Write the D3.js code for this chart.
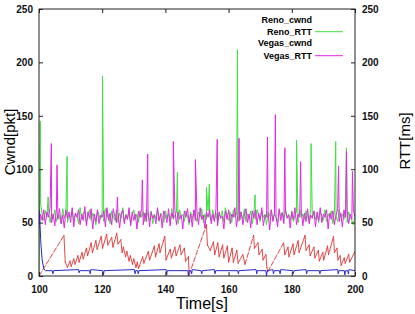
<!DOCTYPE html>
<html>
<head>
<meta charset="utf-8">
<script src="https://cdn.jsdelivr.net/npm/d3@7"></script>
<style>
body { margin: 0; background: #fff; }
text { font-family: "Liberation Sans", Arial, sans-serif; }
</style>
</head>
<body>
<svg class="chart" width="415" height="314"></svg>
<script>
"use strict";

var width  = 415,
    height = 314;

// sampling of the RTT traces: one value every half second, 100s .. 200s
var tStart = 100, tStep = 0.5;

var xTicks = [100, 120, 140, 160, 180, 200],
    yTicks = [0, 50, 100, 150, 200, 250];

var renoRtt = [
     0, 68, 58, 52, 61, 55, 63, 50, 59, 54,
    62, 51, 58, 56, 49, 63, 54, 60, 50, 57,
    55, 62, 52, 58, 57, 49, 64, 53, 59, 61,
    50, 56, 62, 52, 59, 55, 48, 61, 57, 53,
    60, 51, 63, 55, 58, 49, 61, 56, 52, 62,
    50, 59, 54, 64, 51, 58, 53, 61, 48, 57,
    62, 53, 58, 50, 61, 55, 60, 51, 63, 56,
    52, 61, 49, 58, 54, 62, 51, 59, 56, 50,
    61, 54, 58, 51, 63, 53, 57, 60, 49, 62,
    55, 58, 51, 61, 56, 48, 60, 53, 62, 57,
    51, 60, 55, 63, 50, 58, 53, 61, 56, 52,
    62, 53, 59, 49, 58, 55, 61, 51, 64, 56,
    52, 60, 50, 62, 55, 58, 51, 61, 57, 53,
    63, 51, 58, 55, 61, 49, 60, 53, 62, 56,
    51, 61, 55, 58, 48, 60, 56, 62, 53, 58,
    55, 50, 61, 56, 60, 52, 63, 55, 58, 52,
    61, 51, 57, 60, 50, 62, 55, 58, 53, 61,
    56, 51, 63, 55, 60, 53, 58, 50, 61, 56,
    52, 62, 51, 58, 55, 61, 49, 60, 56, 51,
    62, 55, 58, 53, 61, 50, 60, 56, 52, 48,
    56
];

var vegasRtt = [
    45, 58, 52, 62, 48, 60, 55, 64, 50, 58,
    47, 61, 53, 63, 49, 57, 45, 62, 54, 60,
    50, 64, 46, 59, 55, 62, 48, 58, 52, 65,
    47, 60, 54, 63, 44, 58, 51, 62, 49, 57,
    55, 61, 46, 64, 52, 59, 48, 63, 56, 50,
    60, 45, 58, 62, 49, 57, 53, 64, 47, 60,
    52, 58, 44, 61, 55, 63, 48, 59, 51, 62,
    46, 60, 54, 57, 49, 64, 52, 58, 45, 61,
    56, 50, 63, 47, 59, 54, 62, 48, 60, 53,
    57, 44, 61, 55, 63, 50, 58, 46, 62, 52,
    59, 48, 64, 53, 57, 45, 60, 55, 62, 49,
    58, 51, 63, 47, 60, 54, 56, 44, 61, 53,
    62, 49, 58, 55, 64, 46, 59, 52, 60, 48,
    57, 63, 50, 58, 45, 61, 54, 62, 48, 59,
    53, 64, 47, 57, 55, 60, 43, 62, 51, 58,
    56, 46, 63, 52, 59, 49, 61, 54, 57, 45,
    60, 53, 64, 48, 58, 55, 62, 47, 59, 51,
    63, 49, 57, 54, 61, 46, 60, 52, 64, 50,
    58, 55, 62, 44, 59, 53, 61, 48, 57, 63,
    51, 59, 46, 62, 55, 60, 49, 58, 53, 61,
    56
];

// [time, rtt] of the narrow RTT spikes
var renoRttSpikes = [
    [100.4, 145], [102.9, 74], [108.9, 112], [120.1, 187], [143.8, 97],
    [153.0, 83], [153.9, 86], [162.8, 212], [168.4, 76], [181.5, 127],
    [186.1, 124], [193.9, 126], [197.3, 120]
];

var vegasRttSpikes = [
    [103.9, 124], [105.7, 104], [124.8, 74], [132.7, 90], [134.4, 114],
    [142.5, 126], [149.5, 109], [156.4, 128], [163.3, 129], [172.3, 130],
    [174.8, 151], [177.8, 120], [182.8, 107], [194.8, 103], [197.3, 117],
    [199.2, 98]
];

// [time, cwnd] vertices of the Reno sawtooth
var renoCwnd = [
    [100.0, 0], [107.9, 38], [108.3, 13], [109.0, 8], [109.8, 14], [110.2, 9],
    [111.0, 16], [111.4, 11], [112.3, 19], [112.7, 13], [113.6, 22], [114.0, 16],
    [115.0, 26], [115.4, 19], [116.5, 31], [116.9, 22], [118.0, 33], [118.4, 25],
    [119.7, 37], [120.1, 26], [121.4, 39], [121.8, 29], [123.0, 36], [123.4, 27],
    [124.6, 40], [125.0, 30], [125.9, 34], [126.3, 22], [126.7, 27], [127.4, 18],
    [127.8, 23], [128.5, 14], [128.9, 19], [129.6, 11], [130.0, 16], [130.7, 8],
    [131.1, 13], [131.5, 7], [132.8, 18], [133.2, 12], [134.6, 23], [135.0, 15],
    [136.5, 28], [136.9, 18], [138.0, 30], [138.3, 22], [139.8, 37], [140.2, 15],
    [141.5, 25], [141.9, 17], [143.0, 27], [143.4, 19], [144.6, 29], [145.0, 20],
    [146.0, 26], [146.4, 14], [147.3, 18], [147.5, 1], [153.0, 48], [153.3, 29],
    [154.2, 24], [155.2, 32], [155.6, 20], [156.6, 31], [157.0, 18], [158.1, 29],
    [158.5, 17], [159.6, 28], [160.0, 13], [161.1, 26], [161.5, 13], [162.6, 24],
    [163.0, 12], [164.5, 20], [165.2, 11], [167.9, 38], [168.2, 26], [169.3, 31],
    [169.6, 20], [170.6, 25], [170.9, 15], [171.8, 20], [172.1, 8], [172.4, 4],
    [177.4, 31], [177.8, 20], [178.8, 27], [179.1, 18], [180.4, 30], [180.7, 20],
    [182.0, 33], [182.3, 22], [184.2, 38], [184.5, 24], [185.5, 29], [185.8, 19],
    [187.0, 27], [187.3, 17], [188.4, 24], [188.7, 14], [189.8, 22], [190.1, 15],
    [191.3, 28], [191.6, 20], [193.2, 37], [193.5, 22], [194.3, 26], [194.6, 15],
    [195.3, 19], [195.6, 10], [196.6, 17], [196.9, 12], [198.0, 20], [198.3, 13],
    [200.0, 23]
];

// [time, cwnd] vertices of the flat Vegas window
var vegasCwnd = [
    [100.0, 62], [100.3, 50], [100.6, 30], [101.0, 15], [101.5, 7], [102.0, 5],
    [104.2, 5], [104.4, 2], [104.6, 5], [112.5, 6], [112.7, 3], [112.9, 5],
    [116.0, 5], [116.2, 2], [116.4, 6], [120.2, 5], [120.4, 1], [120.6, 5],
    [130.2, 6], [130.4, 2], [130.6, 5], [131.2, 5], [131.4, 2], [131.6, 5],
    [140.2, 6], [140.4, 1], [140.6, 5], [147.1, 5], [147.3, 0], [147.5, 5],
    [148.1, 5], [148.3, 2], [148.5, 6], [151.3, 5], [151.5, 2], [151.7, 5],
    [155.5, 6], [155.7, 2], [155.9, 5], [162.9, 5], [163.1, 2], [163.3, 5],
    [168.7, 6], [168.9, 2], [169.1, 5], [171.8, 5], [172.0, 0], [172.2, 5],
    [174.0, 6], [174.2, 2], [174.4, 5], [176.1, 5], [176.3, 2], [176.5, 6],
    [180.3, 5], [180.5, 2], [180.7, 5], [184.5, 6], [184.7, 2], [184.9, 5],
    [188.7, 5], [188.9, 2], [189.1, 5], [194.5, 6], [194.7, 2], [194.9, 5],
    [196.6, 5], [196.8, 1], [197.0, 5], [197.7, 5], [197.9, 2], [198.1, 6],
    [200.0, 5]
];

var legendLabels = ["Reno_cwnd", "Reno_RTT", "Vegas_cwnd", "Vegas_RTT"];


// Setup
var chart = d3.select(".chart")
              .attr("viewBox", "0 0 " + width + " " + height);

var x = d3.scaleLinear().domain([100, 200]).range([39, 355]);
var y = d3.scaleLinear().domain([0, 250]).range([276, 9]);

var colors = {
    renoRtt:  "#40e040",
    vegasRtt: "#e428e4",
    renoCwnd: "#e03434",
    vegasCwnd:"#2a2ad0"
};

function withSpikes(values, spikes) {
    var pts = values.map(function(v, i) { return [tStart + i * tStep, v]; });
    return pts.concat(spikes).sort(function(a, b) { return a[0] - b[0]; });
}

var line = d3.line()
             .x(function(d) { return x(d[0]); })
             .y(function(d) { return y(d[1]); });

chart.append("clipPath").attr("id", "plotclip")
     .append("rect")
        .attr("x", x(100)).attr("y", y(250))
        .attr("width", x(200) - x(100)).attr("height", y(0) - y(250));

var plot = chart.append("g").attr("clip-path", "url(#plotclip)");

function addSeries(data, color, w) {
    plot.append("path")
        .datum(data)
        .attr("d", line)
        .attr("fill", "none")
        .attr("stroke", color)
        .attr("stroke-width", w || 1)
        .attr("stroke-linejoin", "round");
}

// sawtooth: the long slow-start ramps look dashed in the original
function addSawtooth(data, color) {
    for (var i = 1; i < data.length; i++) {
        var a = data[i - 1], b = data[i];
        plot.append("line")
            .attr("x1", x(a[0])).attr("y1", y(a[1]))
            .attr("x2", x(b[0])).attr("y2", y(b[1]))
            .attr("stroke", color)
            .attr("stroke-width", 0.9)
            .attr("stroke-linecap", "round")
            .attr("stroke-dasharray", (b[0] - a[0] > 2.5) ? "5,2" : null);
    }
}

addSeries(withSpikes(renoRtt, renoRttSpikes), colors.renoRtt);
addSeries(withSpikes(vegasRtt, vegasRttSpikes), colors.vegasRtt);
addSawtooth(renoCwnd, colors.renoCwnd);
addSeries(vegasCwnd, colors.vegasCwnd, 1);

// axes
function styleAxis(g) {
    g.select(".domain").remove();
    g.selectAll(".tick line").attr("stroke", "#222");
    g.selectAll("text")
        .attr("fill", "#111")
        .style("font-size", "10px")
        .style("font-weight", "bold");
}

chart.append("g")
    .attr("transform", "translate(" + x(100) + ",0)")
    .call(d3.axisLeft(y).tickValues(yTicks).tickSize(-4).tickPadding(6))
    .call(styleAxis);

chart.append("g")
    .attr("transform", "translate(" + x(200) + ",0)")
    .call(d3.axisRight(y).tickValues(yTicks).tickSize(-4).tickPadding(7))
    .call(styleAxis);

chart.append("g")
    .attr("transform", "translate(0," + y(0) + ")")
    .call(d3.axisBottom(x).tickValues(xTicks).tickSize(-4).tickPadding(10))
    .call(styleAxis);

chart.append("g")
    .attr("transform", "translate(0," + y(250) + ")")
    .call(d3.axisTop(x).tickValues(xTicks).tickSize(-4).tickFormat(""))
    .call(styleAxis);

chart.append("rect")
    .attr("x", x(100)).attr("y", y(250))
    .attr("width", x(200) - x(100)).attr("height", y(0) - y(250))
    .attr("fill", "none")
    .attr("stroke", "#222")
    .attr("stroke-width", 1);

// titles
chart.append("text")
    .attr("x", 202).attr("y", 309)
    .attr("text-anchor", "middle")
    .style("font-size", "16px")
    .text("Time[s]");

chart.append("text")
    .attr("transform", "translate(10,142) rotate(-90)")
    .attr("dy", ".35em")
    .attr("text-anchor", "middle")
    .style("font-size", "15px")
    .text("Cwnd[pkt]");

chart.append("text")
    .attr("transform", "translate(405,141) rotate(-90)")
    .attr("dy", ".35em")
    .attr("text-anchor", "middle")
    .style("font-size", "15px")
    .text("RTT[ms]");

// legend
var legendColors = [null, colors.renoRtt, null, colors.vegasRtt];
var legendRowsY = [20, 31.7, 43.2, 55.7];

var legend = chart.append("g").attr("class", "legend");
legendLabels.forEach(function(label, i) {
    legend.append("text")
        .attr("x", 312).attr("y", legendRowsY[i])
        .attr("dy", ".35em")
        .attr("text-anchor", "end")
        .style("font-size", "9px")
        .style("font-weight", "bold")
        .text(label);
    if (legendColors[i]) {
        legend.append("line")
            .attr("x1", 315).attr("x2", 343)
            .attr("y1", legendRowsY[i]).attr("y2", legendRowsY[i])
            .attr("stroke", legendColors[i])
            .attr("stroke-width", 1);
    }
});
</script>
</body>
</html>
